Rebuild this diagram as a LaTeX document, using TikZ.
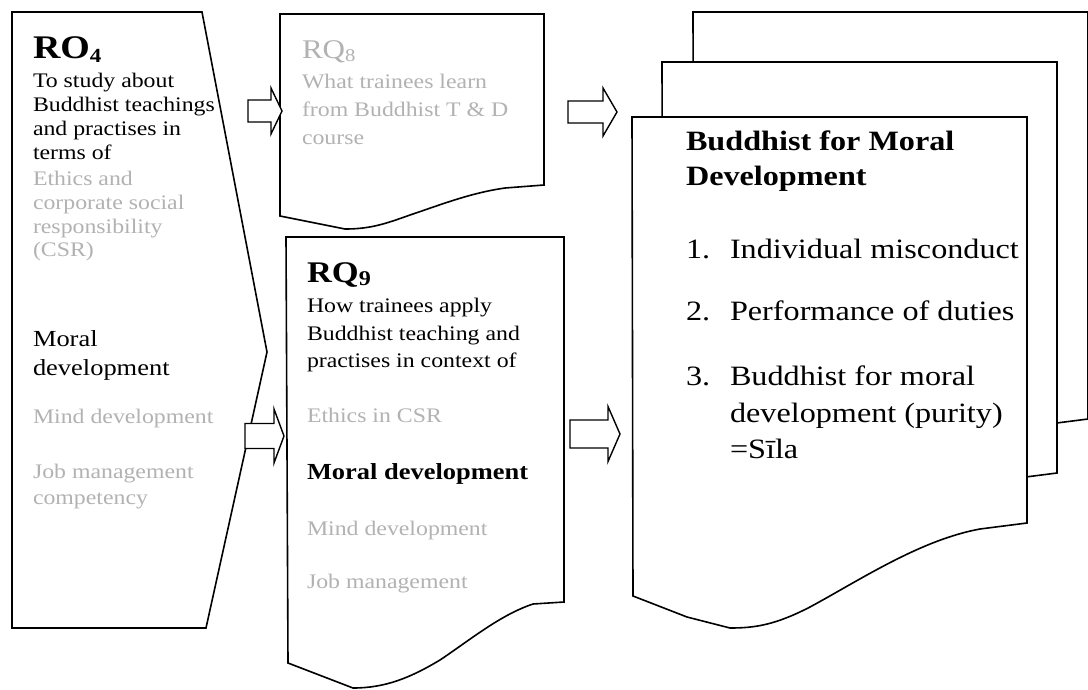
\documentclass[tikz,border=0pt]{standalone}
\usepackage{fontspec}
\setmainfont{Liberation Serif}[FakeStretch=1.15]
\usetikzlibrary{calc}
\tikzset{
  outline/.style={draw=black, line width=1.6pt, fill=white, line join=miter},
  barrow/.style={draw=black, line width=1.4pt, fill=white, line join=miter},
  txt/.style={anchor=base west, inner sep=0pt, outer sep=0pt},
  body/.style={txt, font=\fontsize{20.7}{24}\selectfont},
  faint/.style={body, text=black!30},
  mid/.style={txt, font=\fontsize{23}{28}\selectfont},
  midbold/.style={txt, font=\fontsize{23}{28}\bfseries\selectfont},
  head/.style={txt, font=\fontsize{33}{36}\bfseries\selectfont},
  title/.style={txt, font=\fontsize{28}{32}\bfseries\selectfont},
  big/.style={txt, font=\fontsize{28}{32}\selectfont},
}
% #1 tip, #2 tail, #3 shaft half width, #4 head half width, #5 head length
\newcommand\blockarrow[5]{%
  \draw[barrow] let \p1=(#1), \p2=(#2) in
    (\x2,\y1+#3) -- (\x1-#5,\y1+#3) -- (\x1-#5,\y1+#4) -- (\x1,\y1)
    -- (\x1-#5,\y1-#4) -- (\x1-#5,\y1-#3) -- (\x2,\y1-#3) -- cycle;}
% document shape: #1 x shift, #2 y shift, #3 top
\newcommand\docpath[3]{%
  \draw[outline] ({632+#1},#3) -- ({1027+#1},#3) -- ({1027+#1},{523+#2})
    -- ({980+#1},{529+#2})
    .. controls ({920+#1},{540+#2}) and ({860+#1},{580+#2}) .. ({810+#1},{607+#2})
    .. controls ({775+#1},{625+#2}) and ({755+#1},{628+#2}) .. ({730+#1},{628+#2})
    -- ({687+#1},{617+#2}) -- ({633+#1},{596+#2}) -- cycle;}
\begin{document}
\begin{tikzpicture}[x=1pt,y=-1pt]
\useasboundingbox (0,0) rectangle (1088,689);
\clip (0,0) rectangle (1088,689);

% ---- RO4 box ----
\draw[outline] (12,12) -- (202,12) -- (267,352) -- (206,628) -- (12,628) -- cycle;
\node[head] (ro) at (33,58) {RO{\fontsize{20}{20}\selectfont\raisebox{-4pt}{4}}};
\node[body] (ro1) at (33,87) {To study about};
\node[body] (ro2) at (33,111) {Buddhist teachings};
\node[body] (ro3) at (33,135) {and practises in};
\node[body] (ro4) at (33,159) {terms of};
\node[faint] (ro5) at (33,185) {Ethics and};
\node[faint] (ro6) at (33,209) {corporate social};
\node[faint] (ro7) at (33,233) {responsibility};
\node[faint] (ro8) at (33,256) {(CSR)};
\node[mid] (ro9) at (33,346) {Moral};
\node[mid] (ro10) at (33,375) {development};
\node[faint] (ro11) at (33,423) {Mind development};
\node[faint] (ro12) at (33,478) {Job management};
\node[faint] (ro13) at (33,504) {competency};

% ---- RQ8 box ----
\draw[outline] (280,14) -- (544,14) -- (544,185) -- (505,188)
  .. controls (470,193) and (440,205) .. (410,215)
  .. controls (385,224) and (370,229) .. (345,229) -- (280,216) -- cycle;
\node[txt, font=\fontsize{27}{30}\selectfont, text=black!30] (rq8) at (302,58)
  {RQ{\fontsize{18}{18}\selectfont\raisebox{-3pt}{8}}};
\node[faint] (rq8a) at (302,88) {What trainees learn};
\node[faint] (rq8b) at (302,116) {from Buddhist T \& D};
\node[faint] (rq8c) at (302,144) {course};

% ---- RQ9 box ----
\draw[outline] (286,237) -- (564,237) -- (564,602) -- (533,604)
  .. controls (500,615) and (470,640) .. (440,660)
  .. controls (410,678) and (385,688) .. (353,688) -- (288,663) -- cycle;
\node[head, font=\fontsize{30}{32}\bfseries\selectfont] (rq9) at (307,282)
  {RQ{\fontsize{21}{22}\selectfont\raisebox{-3pt}{9}}};
\node[body] (rq9a) at (307,312) {How trainees apply};
\node[body] (rq9b) at (307,340) {Buddhist teaching and};
\node[body] (rq9c) at (307,367) {practises in context of};
\node[faint] (rq9d) at (307,422) {Ethics in CSR};
\node[midbold] (rq9e) at (307,479) {Moral development};
\node[faint] (rq9f) at (307,535) {Mind development};
\node[faint] (rq9g) at (307,588) {Job management};

% ---- stacked documents ----
\docpath{61}{-104}{12}
\docpath{30}{-50}{62}
\docpath{0}{0}{117}
\node[title] (bt1) at (686,150) {Buddhist for Moral};
\node[title] (bt2) at (686,185) {Development};
\node[big] (n1) at (686,258) {1.};
\node[big] (i1) at (730,258) {Individual misconduct};
\node[big] (n2) at (686,320) {2.};
\node[big] (i2) at (730,320) {Performance of duties};
\node[big] (n3) at (686,385) {3.};
\node[big] (i3a) at (730,385) {Buddhist for moral};
\node[big] (i3b) at (730,422) {development (purity)};
\node[big] (i3c) at (730,458) {=Sīla};

% ---- block arrows ----
\coordinate (a1tail) at (248,111);  \coordinate (a1tip) at (282,111);
\coordinate (a2tail) at (568,112);  \coordinate (a2tip) at (617,112);
\coordinate (a3tail) at (245,436);  \coordinate (a3tip) at (284,436);
\coordinate (a4tail) at (570,434);  \coordinate (a4tip) at (620,434);
\blockarrow{a1tip}{a1tail}{11pt}{23pt}{11pt}
\blockarrow{a2tip}{a2tail}{11pt}{24pt}{14pt}
\blockarrow{a3tip}{a3tail}{12.5pt}{27pt}{10pt}
\blockarrow{a4tip}{a4tail}{14pt}{27.5pt}{12pt}
\end{tikzpicture}
\end{document}
